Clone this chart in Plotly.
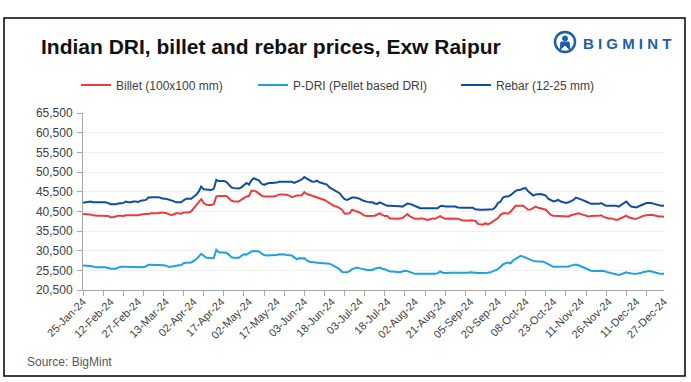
import plotly.graph_objects as go

# ---------------- data ----------------
tick_labels = ["25-Jan-24", "12-Feb-24", "27-Feb-24", "13-Mar-24", "02-Apr-24", "17-Apr-24",
               "02-May-24", "17-May-24", "03-Jun-24", "18-Jun-24", "03-Jul-24", "18-Jul-24",
               "02-Aug-24", "21-Aug-24", "05-Sep-24", "20-Sep-24", "08-Oct-24", "23-Oct-24",
               "11-Nov-24", "26-Nov-24", "11-Dec-24", "27-Dec-24"]
label_every = 11   # one date label every 11 observations
tickmark_every = 8  # tick marks every 8 observations

billet = [
    39800, 39800, 39800, 39700, 39500, 39400, 39400, 39400, 39400, 39400,
    39300, 39000, 39000, 39200, 39400, 39400, 39300, 39500, 39500, 39500,
    39400, 39500, 39500, 39700, 39800, 39800, 39800, 40000, 40000, 40000,
    40000, 40200, 40200, 40100, 39800, 39600, 39700, 40000, 40000, 39900,
    40200, 40200, 40200, 40500, 41300, 42000, 42600, 43600, 42600, 42200,
    42100, 42100, 42300, 44300, 44400, 44400, 44500, 44400, 43800, 43200,
    43000, 43000, 43000, 43500, 43900, 44300, 44400, 45800, 45700, 45500,
    45000, 44500, 44300, 44300, 44300, 44300, 44300, 44500, 44800, 44800,
    44800, 44700, 44500, 44100, 44300, 44500, 44500, 44600, 45400, 44900,
    44700, 44500, 44300, 44100, 43900, 43700, 43400, 43000, 42600, 42200,
    41800, 41700, 41300, 40900, 39900, 39900, 40000, 40900, 40700, 40500,
    40200, 39800, 39400, 39300, 39300, 39400, 39400, 39700, 40000, 39600,
    39300, 39300, 38700, 38700, 38600, 38600, 38700, 38800, 39300, 39800,
    39200, 38800, 38600, 38600, 38600, 38700, 38500, 38300, 38500, 38700,
    38600, 38900, 39300, 38900, 38600, 38700, 38700, 38700, 38700, 38600,
    38400, 38200, 38200, 38100, 38200, 38200, 38100, 37300, 37200, 37100,
    37500, 37200, 37500, 37900, 38300, 38800, 39600, 40000, 40000, 39900,
    40400, 41300, 41900, 41900, 41900, 41900, 41400, 40900, 41000, 41300,
    41700, 41400, 41200, 41000, 40900, 40200, 39600, 39400, 39350, 39350,
    39350, 39350, 39300, 39200, 39500, 39700, 39900, 40000, 39800, 39600,
    39400, 39200, 39300, 39400, 39400, 39400, 39500, 39100, 38800, 38700,
    38700, 38500, 38300, 38500, 38800, 39100, 39400, 39000, 38700, 38600,
    38600, 38900, 39200, 39400, 39500, 39600, 39600, 39500, 39300, 39200,
    39200, 39100]

pdri = [
    26700, 26700, 26700, 26600, 26500, 26300, 26300, 26300, 26300, 26300,
    26100, 25900, 25900, 25900, 26200, 26400, 26400, 26400, 26400, 26400,
    26300, 26300, 26300, 26300, 26300, 26500, 26900, 26900, 26900, 26900,
    26900, 26900, 26800, 26700, 26400, 26400, 26600, 26800, 26800, 26800,
    27300, 27400, 27400, 27500, 27900, 28300, 29000, 29700, 29200, 28700,
    28700, 28600, 28700, 30700, 30100, 30100, 30100, 30000, 29500, 28800,
    28700, 28700, 28700, 29200, 29600, 29500, 29900, 30300, 30400, 30400,
    30300, 29800, 29400, 29300, 29300, 29300, 29300, 29400, 29600, 29600,
    29500, 29400, 29300, 29300, 28800, 28300, 28600, 28500, 28600, 28000,
    27700, 27600, 27500, 27400, 27300, 27300, 27300, 27300, 27200, 26900,
    26600, 26300, 25800, 25100, 25000, 25000, 25300, 25800, 26000, 26200,
    26000, 25800, 25600, 25600, 25600, 25600, 25900, 26100, 26200, 25900,
    25800, 25500, 25200, 25200, 25200, 25100, 25000, 25200, 25400, 25300,
    25000, 24800, 24600, 24600, 24600, 24600, 24600, 24600, 24600, 24600,
    24600, 24800, 25200, 24900, 24800, 24800, 24900, 24900, 24800, 24800,
    24800, 24800, 24800, 24900, 25000, 24900, 24800, 24800, 24800, 24800,
    24800, 24900, 25000, 25200, 25500, 25800, 26400, 27000, 27300, 27500,
    27300, 28000, 28400, 28800, 29200, 29000, 28700, 28400, 28100, 27900,
    27800, 27800, 27800, 27700, 27400, 27000, 26600, 26400, 26400, 26400,
    26400, 26400, 26400, 26500, 26700, 26900, 27000, 26800, 26500, 26200,
    25900, 25700, 25400, 25300, 25300, 25300, 25300, 25400, 25100, 24900,
    24800, 24700, 24500, 24300, 24500, 24800, 25000, 24800, 24600, 24600,
    24600, 24700, 24900, 25100, 25200, 25300, 25200, 25000, 24900, 24700,
    24600, 24600]

rebar = [
    42700, 42800, 43000, 43000, 42800, 42800, 42800, 42800, 42800, 42800,
    42600, 42300, 42300, 42300, 42500, 42500, 42600, 43000, 42800, 42800,
    43000, 43000, 42900, 43200, 43400, 43400, 44000, 44100, 44100, 44100,
    44100, 43900, 43700, 43700, 43500, 43400, 43100, 42800, 42800, 42800,
    43300, 43700, 43700, 43700, 44200, 44700, 45500, 46800, 46100, 46000,
    46000, 45900, 46200, 48500, 48200, 48200, 48200, 48000, 47200, 46600,
    46400, 46300, 46300, 46600, 47200, 47700, 47300, 48400, 48900, 48700,
    48300, 47500, 47200, 47500, 47700, 47700, 47700, 47800, 48000, 48000,
    48000, 48000, 48000, 48000, 47700, 48100, 48300, 48600, 49200, 48800,
    48400, 48100, 48000, 48300, 47900, 47700, 47500, 47300, 46600, 46200,
    45800, 45500, 45100, 44300, 43600, 43400, 43700, 44000, 44000, 43900,
    43700, 43300, 43000, 42900, 42800, 42800, 42500, 42400, 42800, 42500,
    42100, 41900, 41900, 41900, 41900, 41900, 41800, 41700, 42200, 42500,
    42400, 42200, 41900, 41600, 41300, 41300, 41300, 41300, 41300, 41300,
    41300, 41300, 41800, 41900, 41700, 41700, 41700, 41700, 41700, 41500,
    41400, 41400, 41400, 41400, 41500, 41400, 41000, 40900, 40900, 40900,
    40900, 40900, 40900, 41000, 41600, 42600, 43000, 44000, 44300, 44300,
    44600, 45100, 45700, 45950, 46000, 46300, 46400, 45600, 45000, 44500,
    44800, 44900, 44900, 44700, 44500, 43700, 43300, 43000, 43200, 43400,
    43000, 42800, 42600, 42800, 43000, 43400, 44000, 43800, 43600, 43300,
    43000, 42700, 42400, 42400, 42400, 42400, 42600, 42200, 41900, 41900,
    41900, 41900, 41900, 41700, 42100, 42600, 43000, 42300, 41700, 41600,
    41500, 41800, 42100, 42400, 42600, 42600, 42600, 42400, 42200, 42000,
    41900, 41900]

series_names = ["Billet (100x100 mm)", "P-DRI (Pellet based DRI)", "Rebar (12-25 mm)"]
y_ticks = [20500, 25500, 30500, 35500, 40500, 45500, 50500, 55500, 60500, 65500]

# ---------------- figure ----------------
W, H = 691, 382
L, R, T, B = 83, 27, 113, 92
n = len(billet)
x = list(range(n))
tick_pos = list(range(0, n, label_every))

FONT = "Liberation Sans, Arial, sans-serif"
colors = ["#EB3C3C", "#1DA2E0", "#0F4D9D"]
legends = ["legend", "legend2", "legend3"]

fig = go.Figure()
for name, vals, c, lg in zip(series_names, [billet, pdri, rebar], colors, legends):
    fig.add_trace(go.Scatter(x=x, y=vals, mode="lines", name=name,
                             line=dict(color=c, width=2), legend=lg))

def px2paper_x(px):
    return (px - L) / (W - L - R)

def px2paper_y(py):
    return (H - B - py) / (H - T - B)

leg_common = dict(orientation="h", xref="container", yref="container", xanchor="left",
                  yanchor="middle", y=1 - 85 / H, bgcolor="rgba(0,0,0,0)",
                  font=dict(family=FONT, size=12, color="#404040"))
fig.update_layout(
    legend=dict(x=(116 - 40) / W, **leg_common),
    legend2=dict(x=(293 - 40) / W, **leg_common),
    legend3=dict(x=(496 - 40) / W, **leg_common),
)

fig.update_layout(
    width=W, height=H,
    margin=dict(l=L, r=R, t=T, b=B, autoexpand=False),
    paper_bgcolor="white", plot_bgcolor="white",
    showlegend=True,
    title=dict(text="Indian DRI, billet and rebar prices, Exw Raipur",
               x=41 / W, xanchor="left", xref="container",
               y=1 - 47 / H, yanchor="middle", yref="container",
               font=dict(family=FONT, size=21, color="#111111", weight="bold")),
    xaxis=dict(range=[0, n - 1], tickmode="array", tickvals=tick_pos, ticktext=tick_labels,
               tickangle=-45, ticks="", showgrid=False, zeroline=False, automargin=False,
               showline=True, linecolor="#A6A6A6", linewidth=1,
               tickfont=dict(family=FONT, size=11, color="#404040"),
               minor=dict(tickmode="linear", tick0=0, dtick=tickmark_every, ticks="outside",
                          ticklen=5, tickcolor="#A6A6A6", tickwidth=1, showgrid=False)),
    yaxis=dict(range=[y_ticks[0], y_ticks[-1]], tickvals=y_ticks,
               ticktext=[f"{v:,}" for v in y_ticks], automargin=False,
               ticks="outside", ticklen=5, tickcolor="#A6A6A6", ticklabelstandoff=2,
               showgrid=True, gridcolor="#F0F0F0", gridwidth=1, zeroline=False,
               showline=True, linecolor="#A6A6A6", linewidth=1,
               tickfont=dict(family=FONT, size=12, color="#404040")),
)

# outer frame
fig.add_shape(type="rect", xref="paper", yref="paper",
              x0=px2paper_x(4), x1=px2paper_x(685), y0=px2paper_y(376), y1=px2paper_y(18),
              line=dict(color="#000000", width=1.5), fillcolor="rgba(0,0,0,0)", layer="below")

# logo icon (circle mark)
fig.add_shape(type="circle", xref="paper", yref="paper",
              x0=px2paper_x(555), x1=px2paper_x(575), y0=px2paper_y(52), y1=px2paper_y(32),
              line=dict(color="#1B5FAA", width=2.5), fillcolor="rgba(0,0,0,0)")
fig.add_shape(type="circle", xref="paper", yref="paper",
              x0=px2paper_x(562.5), x1=px2paper_x(567.5), y0=px2paper_y(41), y1=px2paper_y(36),
              line=dict(color="#1B5FAA", width=1), fillcolor="#1B5FAA")
fig.add_shape(type="path", xref="paper", yref="paper",
              path="M {:.4f} {:.4f} L {:.4f} {:.4f} L {:.4f} {:.4f} L {:.4f} {:.4f} L {:.4f} {:.4f} Z".format(
                  px2paper_x(560), px2paper_y(50), px2paper_x(561), px2paper_y(42),
                  px2paper_x(569), px2paper_y(42), px2paper_x(570), px2paper_y(50),
                  px2paper_x(565), px2paper_y(45)),
              line=dict(color="#1B5FAA", width=1), fillcolor="#1B5FAA")

fig.add_annotation(text="B I G M I N T", xref="paper", yref="paper",
                   x=px2paper_x(581), y=px2paper_y(43), xanchor="left", yanchor="middle",
                   showarrow=False, font=dict(family=FONT, size=15, color="#1B5FAA", weight="bold"))

fig.add_annotation(text="Source: BigMint", xref="paper", yref="paper",
                   x=px2paper_x(25), y=px2paper_y(362), xanchor="left", yanchor="middle",
                   showarrow=False, font=dict(family=FONT, size=12, color="#595959"))

fig.write_html("out.html", config={"displayModeBar": False},
               post_script="document.body.style.margin='0';")
